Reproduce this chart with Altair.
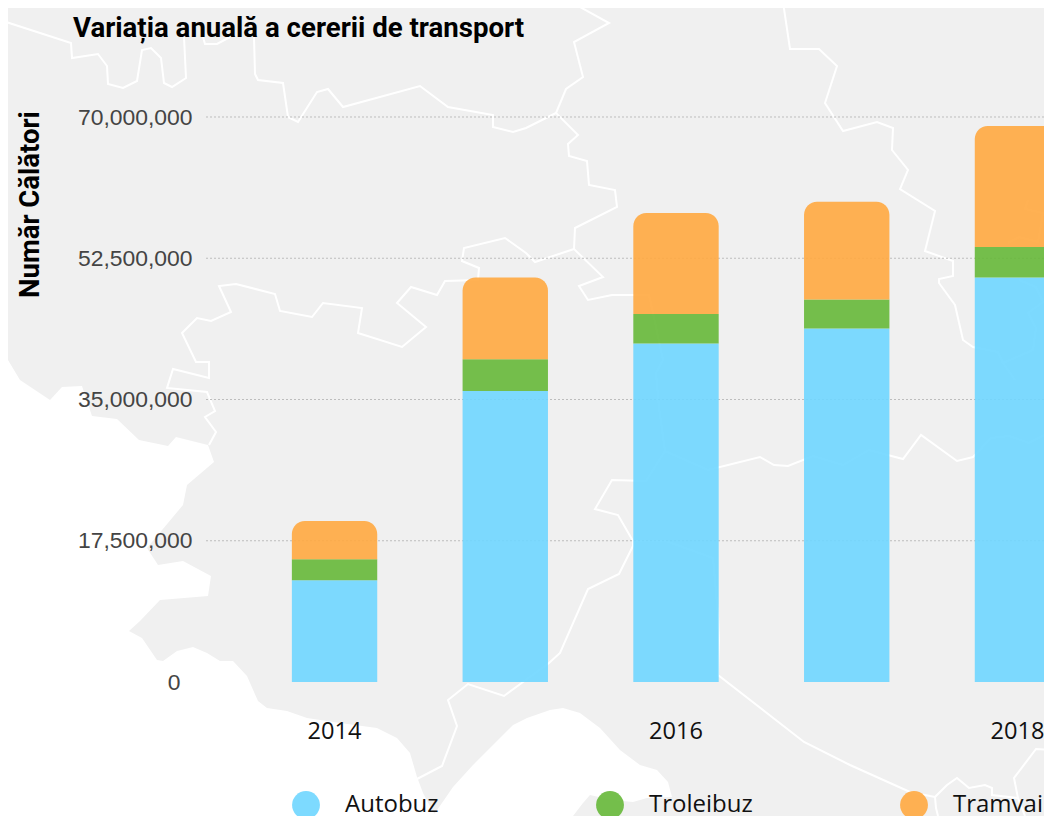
import altair as alt
import pandas as pd

# ---- chart values ----
years = [2014, 2015, 2016, 2017, 2018]
autobuz = [12600000, 36050000, 41950000, 43800000, 50100000]
troleibuz = [2600000, 3950000, 3650000, 3600000, 3800000]
tramvai = [4750000, 10100000, 12500000, 12100000, 15000000]
series = ["Autobuz", "Troleibuz", "Tramvai"]
colors = ["#6fd6ff", "#66b838", "#ffa940"]
y_ticks = [0, 17500000, 35000000, 52500000, 70000000]
grid_ticks = [17500000, 35000000, 52500000, 70000000]
x_ticks = [2014, 2016, 2018]

# ---- background map geometry ----
sea_west = [[0,359],[8,360],[20,380],[50,400],[62,387],[82,386],[92,416],[117,419],[139,440],[168,446],[176,437],
            [208,445],[214,462],[187,485],[183,505],[147,548],[158,565],[183,561],[211,576],[208,596],[160,600],
            [140,621],[129,631],[142,638],[157,660],[163,661],[177,651],[193,647],[207,653],[220,661],[233,661],
            [247,676],[258,701],[267,708],[287,711],[307,718],[340,723],[377,728],[397,738],[410,753],[417,777],
            [423,793],[433,812],[437,816],[0,816],[0,359]]
sea_bay = [[433,816],[453,787],[473,765],[493,745],[513,725],[527,718],[550,710],[563,708],[580,713],[600,728],
           [620,750],[640,765],[657,770],[668,782],[672,797],[647,798],[633,802],[612,800],[590,795],[583,803],
           [573,816],[433,816]]
border_lines = [
    [[0,20],[71,43],[72,58],[98,54],[107,66],[108,84],[123,88],[137,81],[142,50],[151,48],[161,58],[164,83],[172,87],[186,78],[184,37]],
    [[203,37],[205,44],[217,44],[230,37]],
    [[254,37],[255,74],[258,80],[283,83],[288,117],[298,122],[317,92],[328,89],[343,107],[420,86],[448,107],[493,115],[493,127],[513,132],[526,128],[556,113]],
    [[589,0],[580,7],[609,23],[574,42],[583,77],[566,89],[556,113],[578,135],[568,144],[569,156],[587,161],[589,185],[615,190],[617,207],[575,228],[574,249]],
    [[574,249],[603,277],[579,286],[588,300],[612,295],[649,295],[653,313],[663,360],[656,373],[659,408],[665,451]],
    [[574,249],[535,262],[526,253],[505,238],[464,248],[462,261],[479,268],[478,280],[445,281],[437,295],[411,287],[397,303],[426,327],[402,347],[358,333],[362,308],[323,303],[312,317],[280,311],[275,294],[236,284],[219,286],[231,312],[211,321],[197,318],[182,333],[196,362],[209,362],[209,378],[173,369],[167,388],[207,392],[215,411],[205,417],[216,432],[209,445]],
    [[673,0],[681,2]],
    [[766,0],[783,2],[790,49],[819,49],[837,66],[825,103],[843,131],[877,122],[893,128],[892,150],[908,170],[900,189],[935,211],[925,251],[953,261],[953,276],[939,279],[939,283],[955,305],[963,340],[973,347],[998,352],[1003,363]],
    [[1019,280],[1036,287],[1043,302],[1028,313],[1036,328],[1033,350],[1003,363],[1015,380]],
    [[1028,200],[1025,209],[1043,213],[1038,242],[1019,237],[1008,243]],
    [[417,779],[442,766],[457,726],[448,700],[468,684],[504,696],[523,682],[549,663],[560,653],[588,589],[619,574],[633,546],[633,541],[618,515],[595,509],[612,480],[646,481],[665,451],[708,470],[760,457],[774,465],[788,466],[813,456],[843,465],[869,450],[903,459],[921,435],[957,461],[973,457],[991,438],[1009,436],[1029,443],[1052,431]],
    [[633,541],[666,541],[713,558],[718,615],[719,640],[718,675],[804,742],[850,765],[910,792],[935,797]],
    [[938,816],[936,808],[935,797],[947,785],[957,778],[969,788],[985,785],[992,788],[992,795],[1018,798],[1014,778],[1036,749],[1052,750]],
    [[1018,798],[1025,816]],
]

PLOT_LEFT, PLOT_TOP = 206, 117


def feature(kind, coords):
    return {"type": "Feature", "properties": {}, "geometry": {"type": kind, "coordinates": coords}}


seas = alt.Data(values=[feature("Polygon", [sea_west]), feature("Polygon", [sea_bay])])
borders = alt.Data(values=[feature("LineString", l) for l in border_lines])

sea_layer = alt.Chart(seas).mark_geoshape(fill="#ffffff", strokeWidth=0, clip=False).project(
    type="identity", scale=1, translate=[-PLOT_LEFT, -PLOT_TOP])
border_layer = alt.Chart(borders).mark_geoshape(filled=False, stroke="#ffffff", strokeWidth=2, clip=False).project(
    type="identity", scale=1, translate=[-PLOT_LEFT, -PLOT_TOP])

# ---- data table ----
rows = []
for i, y in enumerate(years):
    for k, (name, vals) in enumerate(zip(series, [autobuz, troleibuz, tramvai])):
        rows.append({"year": y, "mode": name, "idx": k, "value": vals[i]})
df = pd.DataFrame(rows)

y_scale = alt.Scale(domain=[0, 70000000], nice=False, zero=True)
x_scale = alt.Scale(paddingInner=0.5, paddingOuter=0.5, range=[0.5, 939.5])
color_enc = alt.Color(
    "mode:N",
    scale=alt.Scale(domain=series, range=colors),
    legend=alt.Legend(
        title=None, orient="none", direction="horizontal", columns=3, gridAlign="all",
        legendX=86, legendY=674, symbolType="circle", symbolSize=776, symbolStrokeWidth=0,
        labelFont="Open Sans", labelFontSize=24, labelColor="#111111", labelOffset=25,
        columnPadding=147, symbolOpacity=0.9,
    ),
)
x_axis = alt.Axis(values=x_ticks, labelAngle=0, domain=False, ticks=False, grid=False,
                  labelFont="Open Sans", labelFontSize=23.6, labelColor="#111111",
                  labelPadding=37, zindex=1)
y_axis = alt.Axis(values=y_ticks, labelExpr="format(datum.value, ',')", domain=False, ticks=False, grid=False,
                  labelFont="Liberation Sans", labelFontSize=22.9, labelColor="#444444",
                  labelPadding=alt.condition("datum.value === 0", alt.value(26), alt.value(14)),
                  titleFont="Roboto", titleFontWeight="bold", titleFontSize=27.5, titleColor="#000000",
                  titleX=-162, titleY=87, zindex=1)
y_title = "Număr Călători"

grid_layer = alt.Chart(pd.DataFrame({"v": grid_ticks})).mark_rule(
    color="#bdbdbd", strokeWidth=1, strokeDash=[2, 2]
).encode(y=alt.Y("v:Q", scale=y_scale, title=y_title, axis=y_axis))

base = alt.Chart(df).transform_stack(
    stack="value", groupby=["year"], as_=["y0", "y1"], sort=[alt.SortField("idx", order="ascending")]
)

lower = base.transform_filter("datum.idx < 2").mark_bar(opacity=0.9).encode(
    x=alt.X("year:O", scale=x_scale, title=None, axis=x_axis),
    y=alt.Y("y1:Q", scale=y_scale, title=y_title, axis=y_axis),
    y2="y0:Q",
    color=color_enc,
)
upper = base.transform_filter("datum.idx == 2").mark_bar(
    opacity=0.9, cornerRadiusTopLeft=13, cornerRadiusTopRight=13
).encode(
    x=alt.X("year:O", scale=x_scale, title=None, axis=x_axis),
    y=alt.Y("y1:Q", scale=y_scale, title=y_title, axis=y_axis),
    y2="y0:Q",
    color=color_enc,
)

chart = alt.layer(sea_layer, border_layer, grid_layer, lower, upper).properties(
    width=838, height=565,
    background="#f0f0f0",
    padding={"left": 198, "top": 109, "right": 0, "bottom": 134},
    autosize=alt.AutoSizeParams(type="none"),
    title=alt.TitleParams(
        "Variația anuală a cererii de transport", anchor="start", frame="group", orient="top",
        font="Roboto", fontWeight="bold", fontSize=27.6, color="#000000",
        dx=-133, offset=0, dy=69, baseline="alphabetic",
    ),
).configure_view(stroke=None, fill=None)

chart.save("out.html", embed_options={"renderer": "svg", "actions": False})
